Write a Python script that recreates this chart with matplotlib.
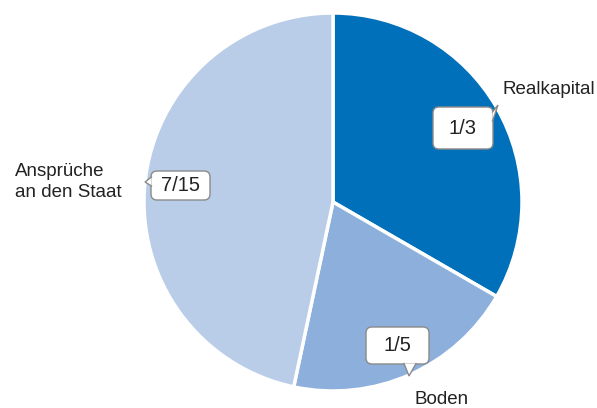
import numpy as np
import matplotlib
matplotlib.use("Agg")
import matplotlib.pyplot as plt
from matplotlib.patches import FancyBboxPatch, Polygon

plt.rcParams["font.family"] = ["Liberation Sans", "DejaVu Sans"]

labels = ["Realkapital", "Boden", "Ansprüche\nan den Staat"]
shares = [1 / 3, 1 / 5, 7 / 15]
share_text = ["1/3", "1/5", "7/15"]
colors = ["#0070BB", "#8CAFDC", "#B9CDE9"]

W, H = 597, 408


def py(y):
    # pixel rows run downwards, data y runs upwards
    return H - y


fig = plt.figure(figsize=(W / 100, H / 100), dpi=100)
ax = fig.add_axes([0, 0, 1, 1])

ax.pie(shares, colors=colors, startangle=90, counterclock=False,
       center=(333, py(202)), radius=189,
       wedgeprops={"edgecolor": "white", "linewidth": 2.5})
ax.set_xlim(0, W)
ax.set_ylim(0, H)
ax.set_aspect("equal")
ax.axis("off")


def callout(text, x0, y0, x1, y1, tail):
    box = FancyBboxPatch((x0, py(y1)), x1 - x0, y1 - y0,
                         boxstyle="round,pad=0,rounding_size=6",
                         facecolor="white", edgecolor="#8a8a8a", lw=1.0, zorder=5)
    ax.add_patch(box)
    (bx0, by0), tip, (bx1, by1) = tail
    pts = [(bx0, py(by0)), (tip[0], py(tip[1])), (bx1, py(by1))]
    ax.add_patch(Polygon(pts, closed=True, facecolor="white", edgecolor="none", zorder=6))
    ax.plot([p[0] for p in pts], [p[1] for p in pts], color="#8a8a8a", lw=1.0,
            zorder=7, solid_joinstyle="miter")
    ax.text((x0 + x1) / 2, py((y0 + y1) / 2), text, ha="center", va="center",
            fontsize=14.5, color="#222222", zorder=8)


callout(share_text[0], 433, 107, 493, 149, [(492.5, 112), (498, 105), (492.5, 121)])
callout(share_text[1], 366, 327, 429, 364, [(404, 363.5), (409, 376), (416, 363.5)])
callout(share_text[2], 151, 171, 210, 200, [(151.5, 177), (145, 182), (151.5, 186)])

ax.text(503, py(90), labels[0], ha="left", va="center", fontsize=13.5, color="#222222")
ax.text(415, py(399), labels[1], ha="left", va="center", fontsize=13.5, color="#222222")
ax.text(15, py(182), labels[2], ha="left", va="center", fontsize=13.5, color="#222222",
        linespacing=1.35)

fig.savefig("out.png", dpi=100)
